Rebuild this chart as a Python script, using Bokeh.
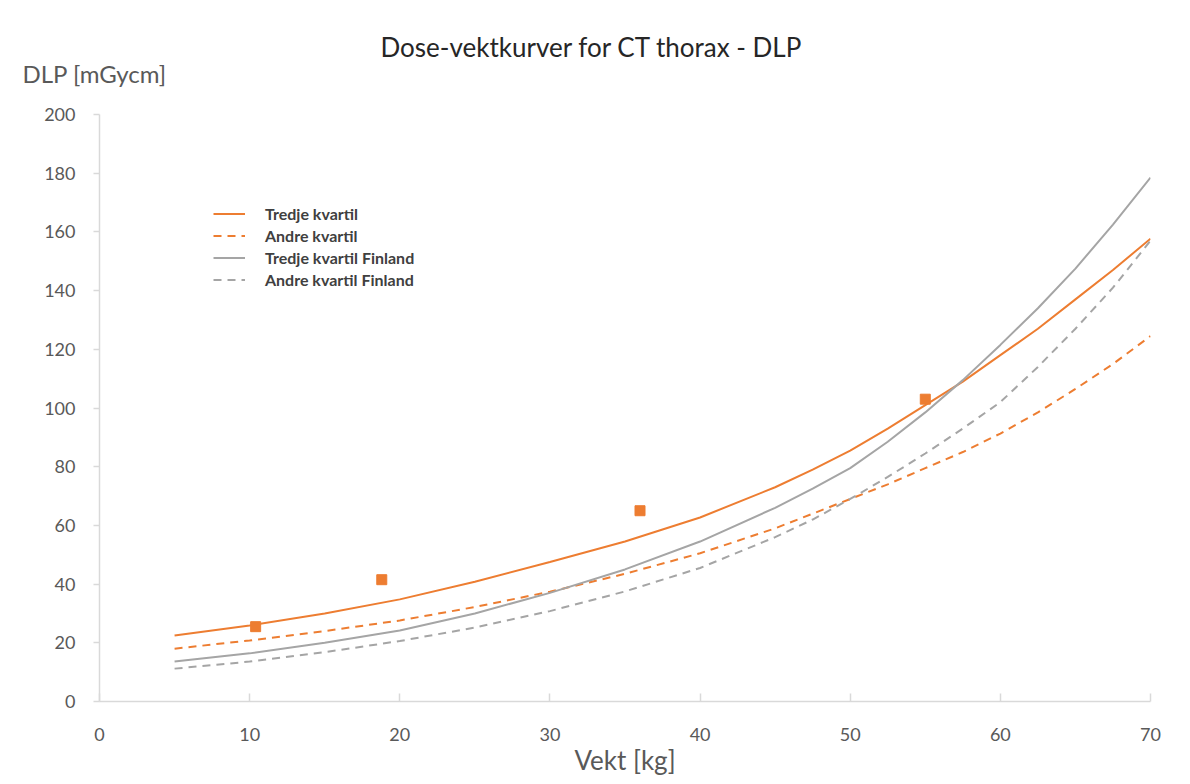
from bokeh.plotting import figure
from bokeh.models import Range1d, Legend, LegendItem, Title, FixedTicker
from bokeh.embed import file_html
from bokeh.resources import INLINE

# ---- data ----
weights = [5, 10, 15, 20, 25, 30, 35, 40, 45, 47.5, 50, 52.5, 55, 57.5, 60, 62.5, 65, 67.5, 70]
tredje_kvartil = [22.5, 25.9, 30.0, 34.8, 40.8, 47.5, 54.5, 62.7, 73.0, 79.0, 85.5, 93.0, 101.0,
                  109.0, 118.0, 127.0, 137.0, 147.0, 157.7]
andre_kvartil = [18.0, 20.8, 24.0, 27.6, 32.2, 37.4, 43.5, 50.5, 59.0, 64.0, 69.0, 74.0, 79.5,
                 85.0, 91.3, 98.5, 106.5, 115.0, 124.5]
tredje_kvartil_finland = [13.6, 16.4, 20.0, 24.2, 30.0, 37.0, 45.0, 54.5, 66.0, 72.5, 79.5, 88.5, 98.5,
                          109.5, 121.5, 134.0, 147.5, 162.5, 178.5]
andre_kvartil_finland = [11.2, 13.6, 16.8, 20.6, 25.2, 30.8, 37.5, 45.5, 56.0, 62.0, 69.0, 76.5, 84.5,
                         93.0, 102.0, 114.0, 127.0, 141.0, 157.0]
punkt_vekt = [10.4, 18.8, 36.0, 55.0]
punkt_dlp = [25.5, 41.5, 65.0, 103.0]
x_ticks = [0, 10, 20, 30, 40, 50, 60, 70]
y_ticks = [0, 20, 40, 60, 80, 100, 120, 140, 160, 180, 200]

ORANGE = "#ED7D31"
GRAY = "#A5A5A5"
TXT = "#595959"
FONT = "Lato"

p = figure(width=1190, height=784, output_backend="svg", toolbar_location=None,
           x_range=Range1d(0, 70), y_range=Range1d(0, 200),
           min_border_left=99, min_border_right=40, min_border_top=114, min_border_bottom=83)
p.outline_line_color = None
p.xgrid.visible = False
p.ygrid.visible = False
p.background_fill_color = "white"
p.border_fill_color = "white"

# axes
p.xaxis.ticker = FixedTicker(ticks=x_ticks)
p.yaxis.ticker = FixedTicker(ticks=y_ticks)
for ax in (p.xaxis, p.yaxis):
    ax.axis_line_color = "#D9D9D9"
    ax.axis_line_width = 1.5
    ax.major_tick_line_color = "#D9D9D9"
    ax.major_tick_line_width = 1.5
    ax.minor_tick_line_color = None
    ax.major_label_text_font = FONT
    ax.major_label_text_font_size = "18px"
    ax.major_label_text_color = TXT
p.xaxis.major_tick_in = 8
p.xaxis.major_tick_out = 0
p.xaxis.major_label_standoff = 26
p.xaxis.axis_label = "Vekt [kg]"
p.xaxis.axis_label_text_font = FONT
p.xaxis.axis_label_text_font_size = "26px"
p.xaxis.axis_label_text_font_style = "normal"
p.xaxis.axis_label_text_color = TXT
p.xaxis.axis_label_standoff = 0
p.yaxis.major_tick_in = 0
p.yaxis.major_tick_out = 6
p.yaxis.major_label_standoff = 18

# curves
r1 = p.line(weights, tredje_kvartil, line_color=ORANGE, line_width=2)
r2 = p.line(weights, andre_kvartil, line_color=ORANGE, line_width=2, line_dash="8 6")
r3 = p.line(weights, tredje_kvartil_finland, line_color=GRAY, line_width=2)
r4 = p.line(weights, andre_kvartil_finland, line_color=GRAY, line_width=2, line_dash="8 6")
p.scatter(punkt_vekt, punkt_dlp, marker="square", size=10, fill_color=ORANGE, line_color=ORANGE)

legend = Legend(items=[
    LegendItem(label="Tredje kvartil", renderers=[r1]),
    LegendItem(label="Andre kvartil", renderers=[r2]),
    LegendItem(label="Tredje kvartil Finland", renderers=[r3]),
    LegendItem(label="Andre kvartil Finland", renderers=[r4]),
], location=(114, 412), orientation="vertical")
legend.glyph_width = 32
legend.glyph_height = 19
legend.label_height = 19
legend.spacing = 3
legend.padding = 0
legend.margin = 0
legend.label_standoff = 20
legend.label_text_font = FONT
legend.label_text_font_size = "16px"
legend.label_text_font_style = "bold"
legend.label_text_color = "#404040"
legend.border_line_color = None
legend.background_fill_alpha = 0
p.add_layout(legend, "center")

# y-axis caption and chart title, stacked above the plotting area
ylab = Title(text="DLP [mGycm]", align="left", offset=-77, standoff=53,
             text_font=FONT, text_font_size="24px", text_font_style="normal", text_color=TXT)
main_title = Title(text="Dose-vektkurver for CT thorax - DLP", align="left", offset=281, standoff=-65,
                   text_font=FONT, text_font_size="26px", text_font_style="normal", text_color="#262626")
p.add_layout(ylab, "above")
p.add_layout(main_title, "above")

open("out.html", "w").write(file_html(p, INLINE))
